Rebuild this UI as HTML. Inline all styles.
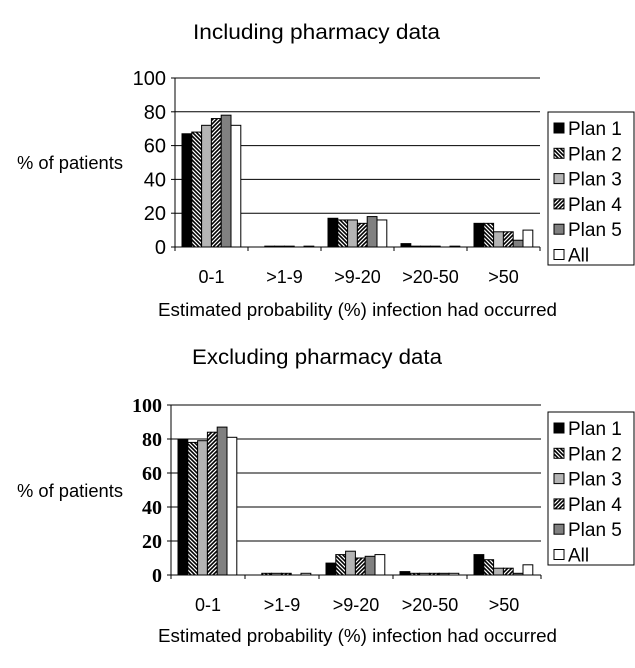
<!DOCTYPE html><html><head><style>body{margin:0;background:#fff}svg text{font-family:"Liberation Sans",sans-serif}</style></head><body>
<svg id="s" width="635" height="663" xmlns="http://www.w3.org/2000/svg">
<defs>
<pattern id="p2" width="4" height="4" patternUnits="userSpaceOnUse"><rect width="4" height="4" fill="#fff"/><path d="M-1,-1 L5,5 M-1,3 L1,5 M3,-1 L5,1" stroke="#000" stroke-width="1.6"/></pattern>
<pattern id="p4" width="4" height="4" patternUnits="userSpaceOnUse"><rect width="4" height="4" fill="#fff"/><path d="M-1,5 L5,-1 M-1,1 L1,-1 M3,5 L5,3" stroke="#000" stroke-width="1.6"/></pattern>
</defs>
<text x="193" y="39" font-size="21" textLength="247" lengthAdjust="spacingAndGlyphs">Including pharmacy data</text>
<text x="192" y="364" font-size="21" textLength="250" lengthAdjust="spacingAndGlyphs">Excluding pharmacy data</text>
<text x="17" y="169" font-size="18" textLength="106" lengthAdjust="spacingAndGlyphs">% of patients</text>
<text x="17" y="497" font-size="18" textLength="106" lengthAdjust="spacingAndGlyphs">% of patients</text>
<text x="158" y="316" font-size="18" textLength="399" lengthAdjust="spacingAndGlyphs">Estimated probability (%) infection had occurred</text>
<text x="158" y="642" font-size="18" textLength="399" lengthAdjust="spacingAndGlyphs">Estimated probability (%) infection had occurred</text>
</svg>
<script>
var s=document.getElementById('s'),ns='http://www.w3.org/2000/svg';
function el(t,a,txt){var e=document.createElementNS(ns,t);for(var k in a)e.setAttribute(k,a[k]);if(txt)e.textContent=txt;s.appendChild(e);return e;}
var fills=['#000','url(#p2)','#b4b4b4','url(#p4)','#808080','#fff'],names=['Plan 1','Plan 2','Plan 3','Plan 4','Plan 5','All'],cats=['0-1','>1-9','>9-20','>20-50','>50'];
function chart(x0,x1,y0,y100,data,serif,g0,lx,ly){
 var sc=(y0-y100)/100,cw=(x1-x0)/5;
 for(var v=0;v<=100;v+=20){var y=y0-v*sc;el('line',{x1:x0,x2:x1,y1:y,y2:y,stroke:'#000','stroke-width':1});
  var t=el('text',{x:x0-9,y:y+7,'font-size':20,'text-anchor':'end'},''+v);if(serif){t.setAttribute('style','font-family:"Liberation Serif",serif;font-weight:bold');}
  el('line',{x1:x0-4,x2:x0,y1:y,y2:y,stroke:'#000'});}
 el('line',{x1:x0,x2:x0,y1:y100,y2:y0+4,stroke:'#000'});
 for(var c=0;c<5;c++){var cx=x0+c*cw;el('line',{x1:cx+cw,x2:cx+cw,y1:y0,y2:y0+4,stroke:'#000'});
  el('text',{x:cx+cw/2,y:y0+36,'font-size':18,'text-anchor':'middle'},cats[c]);
  for(var b=0;b<6;b++){var h=data[c][b]*sc;if(h<=0)continue;el('rect',{x:cx+g0+b*9.8,y:y0-h,width:9.8,height:h,fill:fills[b],stroke:'#000','stroke-width':1});}}
 el('rect',{x:lx,y:ly,width:86,height:153,fill:'#fff',stroke:'#000'});
 for(var i=0;i<6;i++){var yy=ly+16+i*25.3;el('rect',{x:lx+6,y:yy-5,width:10,height:10,fill:fills[i],stroke:'#000'});el('text',{x:lx+20,y:yy+7,'font-size':19},names[i]);}
}
chart(175,540,247,78,[[67,68,72,76,78,72],[0,.5,.5,.5,0,.5],[17,16,16,14,18,16],[2,.5,.5,.5,0,.5],[14,14,9,9,4,10]],false,7,548,112);
chart(171,541,575,405,[[80,78,79,84,87,81],[0,1,1,1,0,1],[7,12,14,10,11,12],[2,1,1,1,1,1],[12,9,4,4,1,6]],true,7,548,412);
</script>
</body></html>
